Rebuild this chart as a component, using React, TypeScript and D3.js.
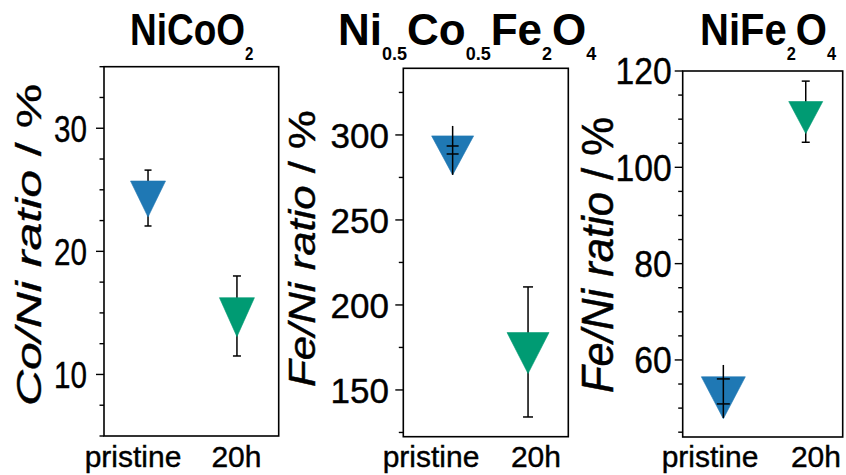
import React from "react";
import * as d3 from "d3";

const categories = ["pristine", "20h"];

// NiCoO2: Co/Ni ratio (%)
const coNiValue = [24.74, 15.18];
const coNiLow = [22.06, 11.5];
const coNiHigh = [26.6, 18.0];
const coNiCapLow = [22.06, 11.5];
const coNiCapHigh = [26.6, 18.0];
const coNiTicks = [10, 20, 30];

// Ni0.5Co0.5Fe2O4: Fe/Ni ratio (%)
const mixValue = [291.8, 175.7];
const mixLow = [276.5, 134.1];
const mixHigh = [305.3, 210.6];
const mixCapLow = [288.8, 134.1];
const mixCapHigh = [293.5, 210.6];
const mixTicks = [150, 200, 250, 300];

// NiFe2O4: Fe/Ni ratio (%)
const feValue = [53.6, 111.45];
const feLow = [47.96, 105.2];
const feHigh = [58.96, 117.9];
const feCapLow = [50.87, 105.2];
const feCapHigh = [56.06, 117.9];
const feTicks = [60, 80, 100, 120];

const W = 846;
const H = 475;
const BLUE = "#1f78b4";
const GREEN = "#009b73";
const FONT = "'Liberation Sans', Arial, sans-serif";

type Part = [string, boolean];

const panels = [
  {
    title: [["NiCoO", false], ["2", true]] as Part[],
    titleX: 130,
    titleSx: 0.84,
    yLabel: "Co/Ni ratio",
    yLabelX: 41,
    yLabelY: 245,
    yLabelSize: 50,
    yLabelSx: 0.72,
    frame: { x0: 104, x1: 278.7, y0: 66.7, y1: 436 },
    domain: [5, 35],
    minor: d3.range(5, 35.01, 2.5),
    major: coNiTicks,
    tickSize: 37,
    tickSx: 0.8,
    tickRight: 87,
    dataFrac: [0.252, 0.761],
    labelFrac: [0.166, 0.758],
    value: coNiValue,
    low: coNiLow,
    high: coNiHigh,
    capLow: coNiCapLow,
    capHigh: coNiCapHigh,
    markers: [
      { w: 35, h: 36, cap: 7, onTop: false },
      { w: 35, h: 39, cap: 8, onTop: false },
    ],
    colors: [BLUE, GREEN],
  },
  {
    title: [["Ni", false], ["0.5", true], ["Co", false], ["0.5", true], ["Fe", false], ["2", true], ["O", false], ["4", true]] as Part[],
    titleX: 338,
    titleSx: 1,
    yLabel: "Fe/Ni ratio",
    yLabelX: 315,
    yLabelY: 248.5,
    yLabelSize: 43.7,
    yLabelSx: 0.85,
    frame: { x0: 403.3, x1: 568.3, y0: 68.3, y1: 436.7 },
    domain: [122.5, 339.2],
    minor: d3.range(125, 339, 25),
    major: mixTicks,
    tickSize: 35,
    tickSx: 1,
    tickRight: 389,
    dataFrac: [0.299, 0.756],
    labelFrac: [0.168, 0.804],
    value: mixValue,
    low: mixLow,
    high: mixHigh,
    capLow: mixCapLow,
    capHigh: mixCapHigh,
    markers: [
      { w: 42, h: 39, cap: 12, onTop: true },
      { w: 42, h: 41, cap: 10, onTop: false },
    ],
    colors: [BLUE, GREEN],
  },
  {
    title: [["NiFe", false], ["2", true], ["O", false], ["4", true]] as Part[],
    titleX: 700,
    titleSx: 0.91,
    yLabel: "Fe/Ni ratio",
    yLabelX: 613,
    yLabelY: 255,
    yLabelSize: 43.6,
    yLabelSx: 1,
    frame: { x0: 682.7, x1: 842.7, y0: 71, y1: 437 },
    domain: [44, 120],
    minor: d3.range(45, 120.01, 5),
    major: feTicks,
    tickSize: 37,
    tickSx: 0.91,
    tickRight: 671.7,
    dataFrac: [0.254, 0.769],
    labelFrac: [0.171, 0.833],
    value: feValue,
    low: feLow,
    high: feHigh,
    capLow: feCapLow,
    capHigh: feCapHigh,
    markers: [
      { w: 44, h: 42, cap: 13, onTop: true },
      { w: 34, h: 32, cap: 8, onTop: false },
    ],
    colors: [BLUE, GREEN],
  },
];

// Downward triangle with its centroid at the origin
function triangleDown(w: number, h: number) {
  const p = d3.path();
  p.moveTo(-w / 2, -h / 3);
  p.lineTo(w / 2, -h / 3);
  p.lineTo(0, (2 * h) / 3);
  p.closePath();
  return p.toString();
}

function Panel({ cfg }: { cfg: (typeof panels)[number] }) {
  const { frame } = cfg;
  const fw = frame.x1 - frame.x0;
  const y = d3.scaleLinear().domain(cfg.domain).range([frame.y1, frame.y0]);
  const x = d3
    .scalePoint<string>()
    .domain(categories)
    .range([frame.x0 + cfg.dataFrac[0] * fw, frame.x0 + cfg.dataFrac[1] * fw]);
  const xl = d3
    .scalePoint<string>()
    .domain(categories)
    .range([frame.x0 + cfg.labelFrac[0] * fw, frame.x0 + cfg.labelFrac[1] * fw]);

  const isMajor = (v: number) => cfg.major.some((m) => Math.abs(m - v) < 1e-6);
  const ticks = Array.from(new Set([...cfg.minor, ...cfg.major]));

  return (
    <g>
      {/* title */}
      <text
        transform={`translate(${cfg.titleX},45) scale(${cfg.titleSx},1)`}
        fontFamily={FONT}
        fontWeight="bold"
        fontSize={44}
        fill="#000"
      >
        {cfg.title.map(([t, sub], i) => {
          const prevSub = i > 0 && cfg.title[i - 1][1];
          const dy = sub ? 15 : prevSub ? -15 : 0;
          return (
            <tspan key={i} fontSize={sub ? 18 : 44} dy={dy}>
              {t}
            </tspan>
          );
        })}
      </text>

      {/* y-axis label */}
      <text
        transform={`translate(${cfg.yLabelX},${cfg.yLabelY}) scale(${cfg.yLabelSx},1) rotate(-90)`}
        textAnchor="middle"
        fontFamily={FONT}
        fontSize={cfg.yLabelSize}
        fill="#000"
        stroke="#000"
        strokeWidth={0.5}
      >
        <tspan fontStyle="italic">{cfg.yLabel}</tspan>
        <tspan> / %</tspan>
      </text>

      {/* ticks */}
      {ticks.map((v) => (
        <line
          key={`t${v}`}
          x1={frame.x0 - (isMajor(v) ? 8 : 4.5)}
          x2={frame.x0}
          y1={y(v)}
          y2={y(v)}
          stroke="#000"
          strokeWidth={1.4}
        />
      ))}
      {cfg.major.map((v) => (
        <text
          key={`l${v}`}
          transform={`translate(${cfg.tickRight},${y(v)}) scale(${cfg.tickSx},1)`}
          textAnchor="end"
          dy="0.36em"
          fontFamily={FONT}
          fontSize={cfg.tickSize}
          fill="#000"
          stroke="#000"
          strokeWidth={0.4}
        >
          {v}
        </text>
      ))}

      {/* frame */}
      <rect
        x={frame.x0}
        y={frame.y0}
        width={fw}
        height={frame.y1 - frame.y0}
        fill="none"
        stroke="#000"
        strokeWidth={1.6}
      />

      {/* category labels */}
      {categories.map((c) => (
        <text
          key={`c${c}`}
          x={xl(c)}
          y={467}
          textAnchor="middle"
          fontFamily={FONT}
          fontSize={30}
          fill="#000"
          stroke="#000"
          strokeWidth={0.4}
        >
          {c}
        </text>
      ))}

      {/* points with error bars */}
      {categories.map((c, i) => {
        const m = cfg.markers[i];
        const cx = x(c) as number;
        const bar = (
          <g key="bar" stroke="#000" strokeWidth={1.5}>
            <line x1={cx} x2={cx} y1={y(cfg.high[i])} y2={y(cfg.low[i])} />
            <line x1={cx - m.cap / 2} x2={cx + m.cap / 2} y1={y(cfg.capHigh[i])} y2={y(cfg.capHigh[i])} />
            <line x1={cx - m.cap / 2} x2={cx + m.cap / 2} y1={y(cfg.capLow[i])} y2={y(cfg.capLow[i])} />
          </g>
        );
        const marker = (
          <path
            key="mk"
            d={triangleDown(m.w, m.h)}
            transform={`translate(${cx},${y(cfg.value[i])})`}
            fill={cfg.colors[i]}
            stroke={cfg.colors[i]}
            strokeOpacity={0.6}
            strokeWidth={1}
          />
        );
        return <g key={`p${c}`}>{m.onTop ? [marker, bar] : [bar, marker]}</g>;
      })}
    </g>
  );
}

export default function App() {
  return (
    <svg
      width={W}
      height={H}
      viewBox={`0 0 ${W} ${H}`}
      style={{ position: "absolute", left: 0, top: 0, background: "#fff" }}
    >
      <rect width={W} height={H} fill="#fff" />
      {panels.map((p, i) => (
        <Panel key={i} cfg={p} />
      ))}
    </svg>
  );
}
